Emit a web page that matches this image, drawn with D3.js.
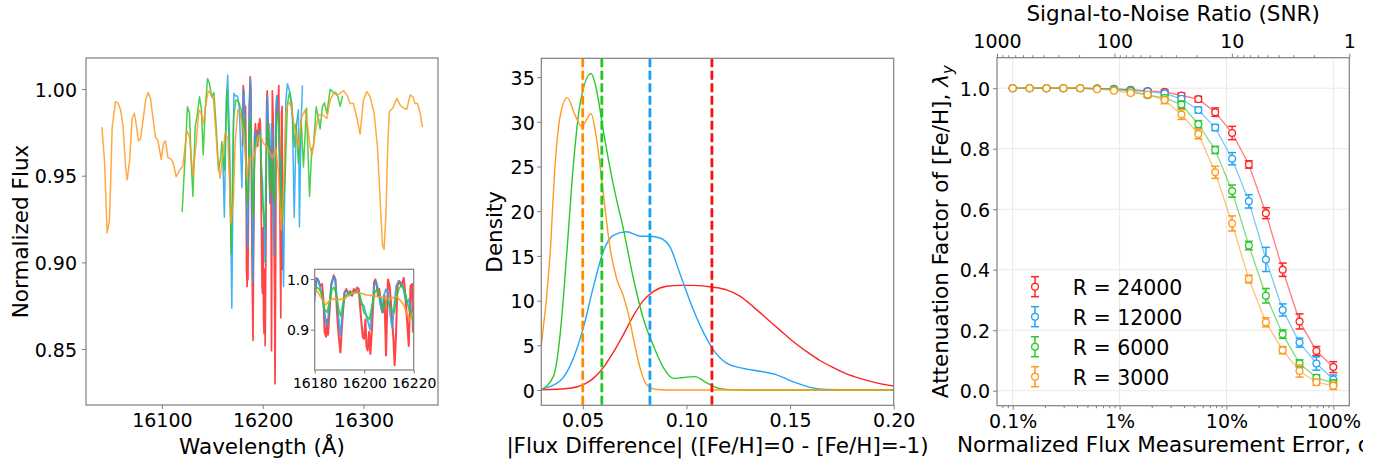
<!DOCTYPE html>
<html><head><meta charset="utf-8">
<script src="https://cdn.jsdelivr.net/npm/d3@7"></script>
<style>body{margin:0;background:#fff}svg{display:block}text{font-family:"DejaVu Sans",sans-serif;fill:#000}</style>
</head><body><svg id="c" width="1385" height="466"></svg>
<script>
// ---------------- Panel 1: spectra ----------------
const wlR3000 = [16040.5,16043,16045.7,16048,16050.7,16054,16056.4,16059,16061.4,16064,16065.6,16068,16070.4,16072.7,16074.7,16076.7,16078.7,16081.3,16083.9,16086.4,16088.7,16091,16093.7,16096,16099.3,16101.6,16103.6,16106,16108.2,16110.9,16114.2,16117.5,16120.8,16124.8,16127.4,16130.8,16134,16136.7,16139,16141.3,16143.3,16146,16148.6,16151.2,16153.2,16155.5,16157.8,16162.8,16165.5,16168.5,16171,16172.7,16175.4,16177.7,16181,16184.3,16186.9,16189.3,16191.9,16195.2,16197.5,16200.8,16204.2,16207.5,16209.7,16213.1,16215.7,16218.4,16220.7,16223,16225.6,16228.3,16231,16233.5,16235.5,16238.9,16242.2,16244.8,16247.1,16249.1,16252.1,16255.4,16259.7,16263.7,16267,16270.3,16273.6,16276.9,16280.2,16283.6,16286.8,16290.1,16294,16296.7,16300,16303.4,16306.6,16310.6,16313.9,16316.6,16318.9,16320.5,16322.5,16324.2,16325.8,16329.2,16333.1,16336.4,16339.7,16343,16346.3,16349,16351.3,16353.6,16356.3,16358.5];
const fluxR3000 = [0.978,0.959,0.917,0.924,0.978,0.9927,0.992,0.988,0.979,0.955,0.9475,0.959,0.983,0.986,0.979,0.970,0.971,0.982,0.9937,0.998,0.9946,0.984,0.972,0.9706,0.9594,0.9687,0.970,0.9604,0.960,0.958,0.9494,0.953,0.9556,0.976,0.972,0.950,0.9687,0.988,0.986,0.980,0.9898,0.9988,0.9975,0.9937,0.978,0.959,0.9485,0.9744,0.9716,0.9225,0.936,0.9687,0.988,0.986,0.976,0.949,0.961,0.959,0.961,0.9725,0.9735,0.9687,0.9667,0.963,0.960,0.9658,0.9514,0.9187,0.9437,0.986,0.9927,0.990,0.980,0.9725,0.9658,0.984,0.988,0.978,0.9667,0.962,0.9744,0.985,0.985,0.983,0.9937,0.9975,0.9965,0.9975,0.999,0.9965,0.9917,0.9917,0.982,0.974,0.9937,0.9985,0.9956,0.986,0.9667,0.936,0.910,0.9075,0.930,0.9687,0.987,0.989,0.9946,0.9908,0.989,0.9883,0.9965,0.9956,0.9917,0.9917,0.986,0.978];

const wlR6000 = [16120.1,16122.8,16125.4,16127.4,16129,16130.8,16133,16135.3,16137.3,16139.3,16141,16143,16145.3,16147.3,16149.3,16151.6,16153.9,16156.2,16158.5,16159.5,16162,16164.5,16166.8,16168.8,16171,16173.4,16176,16178.7,16180,16180.9,16181.9,16183,16184,16185,16185.9,16187,16187.8,16188.6,16189.7,16190.5,16191.3,16192.4,16193.5,16194.5,16195.6,16196.7,16197.8,16198.9,16199.9,16201,16202.1,16203.2,16204.2,16205.3,16206.4,16207.5,16208.3,16209.4,16210.2,16211,16212.1,16213.1,16214.2,16215.3,16216.4,16217.4,16218.5,16219.6,16222.3,16224.6,16226.6,16229,16231.3,16233.2,16235.5,16238.2,16240.5,16243.5,16246.5,16248.8,16250.4,16253.1,16255.4,16257,16259.3,16261.3,16263.7,16267,16270.3,16272.3,16274.7,16277,16279.2];
const fluxR6000 = [0.929,0.959,0.9898,0.986,0.959,0.938,0.978,0.986,0.9956,0.988,0.962,0.988,1.006,1.003,0.9956,0.998,0.978,0.953,0.961,0.9696,0.953,0.9994,0.9687,0.905,0.982,0.9937,0.9927,0.988,0.976,0.983,0.98,0.967,0.94,0.934,0.953,0.98,0.983,0.973,0.94,0.927,0.947,0.967,0.97,0.973,0.973,0.974,0.972,0.953,0.934,0.927,0.92,0.947,0.973,0.98,0.967,0.94,0.947,0.96,0.95,0.94,0.934,0.967,0.983,0.986,0.976,0.953,0.934,0.924,0.949,0.9917,0.998,0.9917,0.9667,0.980,0.957,0.982,0.955,0.989,0.938,0.9658,0.9667,0.9898,0.983,0.977,0.9898,0.992,0.986,0.9998,0.998,0.998,0.9956,0.990,0.996];

const wlR12000 = [16160.5,16162,16164,16165.3,16167,16169.4,16171.4,16173.2,16175,16176.8,16179.4,16180,16180.9,16181.6,16182.7,16183.6,16184.6,16185.1,16185.9,16186.7,16187.7,16188.4,16189.4,16190.4,16191.3,16192.1,16193.1,16194,16194.8,16195.8,16196.7,16197.8,16198.5,16199.1,16199.9,16200.5,16201.6,16202.4,16203.2,16204,16204.8,16205.6,16206.4,16207.2,16207.9,16208.8,16209.6,16210.4,16211.3,16212.1,16212.9,16213.9,16214.8,16215.6,16216.4,16217.2,16218,16218.8,16219.6,16220.7,16223,16224.6,16227.3,16229.6,16231.3,16233.2,16235.5,16236.5,16238.2,16239.5];
const fluxR12000 = [0.96,0.926,0.9937,1.008,0.975,0.8735,0.9975,0.996,0.996,0.990,0.943,0.96,1.0,0.996,0.973,0.947,0.914,0.908,0.947,0.986,1.006,0.993,0.934,0.888,0.934,0.973,0.976,0.967,0.97,0.973,0.976,0.976,0.96,0.95,0.947,0.934,0.914,0.9,0.94,0.986,0.996,0.98,0.953,0.934,0.967,0.98,0.973,0.934,0.904,0.947,0.986,0.996,0.993,0.986,0.967,0.953,0.96,0.94,0.92,0.886,0.9937,1.003,0.9975,0.982,0.926,0.978,0.988,0.9206,0.982,1.002];

const wlR24000 = [16180,16180.7,16181.3,16182.2,16183,16183.6,16184,16184.6,16185,16185.4,16185.9,16186.7,16187.7,16188.4,16189,16189.7,16190.4,16191,16192,16192.8,16193.7,16194.4,16195.1,16195.8,16196.4,16197.1,16197.8,16198.6,16199.4,16199.9,16200.5,16200.9,16201.4,16202,16202.5,16203.2,16204,16204.5,16205.1,16205.6,16206.1,16206.8,16207.5,16208.2,16208.8,16209.6,16210.3,16211,16211.8,16212.3,16212.9,16213.4,16214.2,16215,16216,16216.6,16217.3,16218,16218.7,16219.3,16219.7,16220];
const fluxR24000 = [0.967,1.002,0.999,0.986,0.99,0.953,0.896,0.886,0.92,0.89,0.93,0.99,1.007,0.999,0.934,0.888,0.855,0.907,0.973,0.98,0.97,0.976,0.967,0.98,0.973,0.983,0.98,0.93,0.886,0.882,0.92,0.868,0.859,0.896,0.852,0.907,0.993,0.999,0.986,0.967,0.98,0.947,0.934,0.967,0.849,0.999,0.986,0.94,0.882,0.83,0.896,0.986,0.996,0.986,1.002,0.967,0.92,0.868,0.986,0.99,0.896,0.90];

const specTicksX = [16100,16200,16300];
const specTicksY = [0.85,0.90,0.95,1.00];
const insetTicksX = [16180,16200,16220];
const insetTicksY = [0.9,1.0];

// ---------------- Panel 2: KDE ----------------
const kdeX3000 = [0.03,0.0342,0.0366,0.039,0.0425,0.0462,0.0495,0.054,0.0567,0.0599,0.0631,0.0663,0.0696,0.072,0.0744,0.0776,0.0808,0.0856,0.09,0.12,0.16,0.20];
const kdeY3000 = [5.0,15,25,30.5,32.7,30.8,29.5,30.9,28,22,16,12.5,10.5,8.5,5.8,2.5,0.6,0.05,0,0,0,0];
const kdeX6000 = [0.03,0.0358,0.039,0.0422,0.0454,0.0487,0.054,0.0567,0.0599,0.0647,0.0696,0.0744,0.0792,0.084,0.0889,0.0937,0.0985,0.1041,0.1098,0.1162,0.1226,0.14,0.17,0.20];
const kdeY6000 = [0.05,1.5,6,15,25,32,35.4,33.5,29,23,18,12.5,8,5,2.5,1.3,1.4,1.5,0.8,0.15,0.02,0,0,0];
const kdeX12000 = [0.03,0.039,0.0454,0.0503,0.0551,0.0599,0.0647,0.0712,0.0776,0.0824,0.0872,0.0921,0.0969,0.1033,0.1081,0.113,0.1194,0.1258,0.1355,0.1435,0.1516,0.1596,0.1676,0.18,0.20];
const kdeY12000 = [0.1,1.0,3.5,7,11.5,15.5,17.3,17.7,17.2,17.2,17.0,16,13,9,6.5,4.5,3.0,2.5,2.1,1.7,0.9,0.3,0.05,0,0];
const kdeX24000 = [0.03,0.0438,0.0503,0.0551,0.0599,0.0647,0.0696,0.0744,0.0792,0.084,0.0905,0.0969,0.1033,0.113,0.1194,0.1258,0.1323,0.1387,0.1451,0.1516,0.158,0.1644,0.1709,0.1773,0.1837,0.1917,0.20];
const kdeY24000 = [0.02,0.2,0.6,1.3,2.5,4.2,6.2,8.3,10,11,11.6,11.7,11.7,11.5,11.2,10.5,9.3,8.0,6.7,5.4,4.3,3.3,2.5,1.8,1.3,0.8,0.45];
const kdeMeans = [0.1123,0.0824,0.0592,0.0500]; // R=24000,12000,6000,3000
const kdeTicksX = [0.05,0.10,0.15,0.20];
const kdeTicksY = [0,5,10,15,20,25,30,35];

// ---------------- Panel 3: attenuation ----------------
const noiseLevels = [0.001,0.00144,0.00207,0.00298,0.00428,0.00616,0.00886,0.0127,0.0183,0.0264,0.0379,0.0546,0.0785,0.113,0.162,0.234,0.336,0.483,0.695,1.0];
const lamR24000 = [1.0,1.0,1.0,1.0,1.0,0.999,0.998,0.995,0.991,0.988,0.976,0.964,0.921,0.852,0.748,0.587,0.400,0.229,0.131,0.078];
const lamR12000 = [1.0,1.0,1.0,1.0,1.0,0.999,0.997,0.993,0.989,0.983,0.965,0.928,0.870,0.767,0.626,0.434,0.267,0.159,0.090,0.037];
const lamR6000  = [1.0,1.0,1.0,1.0,1.0,0.999,0.996,0.991,0.977,0.968,0.946,0.881,0.796,0.660,0.480,0.314,0.187,0.090,0.043,0.025];
const lamR3000  = [1.0,1.0,1.0,1.0,1.0,0.997,0.992,0.984,0.979,0.961,0.913,0.849,0.722,0.553,0.369,0.226,0.134,0.065,0.028,0.016];
const errR24000 = [0,0,0,0,0,0.002,0.003,0.004,0.005,0.006,0.008,0.009,0.014,0.022,0.012,0.018,0.022,0.025,0.015,0.018];
const errR12000 = [0,0,0,0,0,0.002,0.003,0.004,0.005,0.007,0.009,0.010,0.010,0.020,0.022,0.040,0.020,0.015,0.022,0.015];
const errR6000  = [0,0,0,0,0,0.002,0.003,0.004,0.006,0.008,0.012,0.012,0.012,0.020,0.014,0.024,0.014,0.012,0.010,0.010];
const errR3000  = [0,0,0,0,0,0.002,0.003,0.005,0.008,0.012,0.016,0.016,0.020,0.025,0.013,0.015,0.012,0.020,0.010,0.012];
const resLabels = ["R = 24000","R = 12000","R = 6000","R = 3000"];
const errTicks = [0.001,0.01,0.1,1];
const errTickLabels = ["0.1%","1%","10%","100%"];
const snrTicks = [1000,100,10,1];
const lamTicks = [0.0,0.2,0.4,0.6,0.8,1.0];

// ---------------- drawing ----------------
const COL = {r:'#ff2424', b:'#23a5f5', g:'#2cc82c', o:'#ff9a1f'};
const DASH = {r:'#f51010', b:'#15a0f0', g:'#1ec81e', o:'#ff8a00'};
const SPINE = '#7f7f7f';
const TICKF = 19, LABF = 21.5;
const svg = d3.select('#c');
const defs = svg.append('defs');

function clip(id,x0,y0,x1,y1){
  defs.append('clipPath').attr('id',id).append('rect').attr('x',x0).attr('y',y0).attr('width',x1-x0).attr('height',y1-y0);
  return 'url(#'+id+')';
}
function styleAxis(g, fs){
  g.select('.domain').remove();
  g.selectAll('.tick line').attr('stroke',SPINE).attr('stroke-width',1);
  g.selectAll('.tick text').attr('font-size',fs).attr('font-family','DejaVu Sans').attr('fill','#000');
}
function bottomAxis(scale, ticks, y, fs, base, fmt, size){
  const g = svg.append('g').attr('transform',`translate(0,${y})`)
    .call(d3.axisBottom(scale).tickValues(ticks).tickSize(size||4).tickFormat(fmt||(d=>d)));
  styleAxis(g, fs);
  g.selectAll('.tick text').attr('dy',null).attr('y',base);
  return g;
}
function leftAxis(scale, ticks, x, fs, off, fmt){
  const g = svg.append('g').attr('transform',`translate(${x},0)`)
    .call(d3.axisLeft(scale).tickValues(ticks).tickSize(4).tickFormat(fmt||(d=>d)));
  styleAxis(g, fs);
  g.selectAll('.tick text').attr('x',-off).attr('dy','0.38em');
  return g;
}
function box(x0,y0,x1,y1,fill){
  svg.append('rect').attr('x',x0).attr('y',y0).attr('width',x1-x0).attr('height',y1-y0)
    .attr('fill',fill||'none').attr('stroke',SPINE).attr('stroke-width',1.2);
}
function label(txt,x,y,rot,fs,anchor,parent){
  const t = (parent||svg).append('text').attr('font-size',fs||LABF).attr('text-anchor',anchor||'middle')
    .attr('transform',`translate(${x},${y})`+(rot?` rotate(${rot})`:'')).text(txt);
  return t;
}

// ===== Panel 1 =====
const P1 = {x0:86,x1:438,y0:58,y1:405};
const x1s = d3.scaleLinear().domain([16024.7,16374]).range([P1.x0,P1.x1]);
const y1s = d3.scaleLinear().domain([0.8177,1.0179]).range([P1.y1,P1.y0]);
const c1 = clip('c1',P1.x0,P1.y0,P1.x1,P1.y1);
const specs = [
  {wl:wlR24000, fl:fluxR24000, c:COL.r, w:1.7},
  {wl:wlR12000, fl:fluxR12000, c:COL.b, w:1.5},
  {wl:wlR6000,  fl:fluxR6000,  c:COL.g, w:1.5},
  {wl:wlR3000,  fl:fluxR3000,  c:COL.o, w:1.5}
];
function drawSpec(xs, ys, clipUrl, scaleW){
  const g = svg.append('g').attr('clip-path',clipUrl);
  specs.forEach(s=>{
    const line = d3.line().x((d,i)=>xs(s.wl[i])).y((d,i)=>ys(s.fl[i]));
    g.append('path').attr('d',line(s.wl)).attr('fill','none').attr('stroke',s.c)
      .attr('stroke-width',s.w*scaleW).attr('stroke-opacity',0.85).attr('stroke-linejoin','round');
  });
}
drawSpec(x1s,y1s,c1,1);
box(P1.x0,P1.y0,P1.x1,P1.y1);
bottomAxis(x1s,specTicksX,P1.y1,TICKF,22);
leftAxis(y1s,specTicksY,P1.x0,TICKF,9,d3.format('.2f'));
label('Wavelength (Å)',(P1.x0+P1.x1)/2,454);
label('Normalized Flux',28,(P1.y0+P1.y1)/2,-90);

// inset
const PI = {x0:314.7,x1:413.7,y0:269.3,y1:370};
svg.append('rect').attr('x',PI.x0).attr('y',PI.y0).attr('width',PI.x1-PI.x0).attr('height',PI.y1-PI.y0).attr('fill','#fff');
const xis = d3.scaleLinear().domain([16180,16220]).range([PI.x0,PI.x1]);
const yis = d3.scaleLinear().domain([0.8205,1.019]).range([PI.y1,PI.y0]);
const ci = clip('ci',PI.x0,PI.y0,PI.x1,PI.y1);
drawSpec(xis,yis,ci,1.2);
box(PI.x0,PI.y0,PI.x1,PI.y1);
bottomAxis(xis,insetTicksX,PI.y1,14,18,null,3.5);
leftAxis(yis,insetTicksY,PI.x0,14,5.5,d3.format('.1f'));

// ===== Panel 2 =====
const P2 = {x0:541.3,x1:893.7,y0:58.3,y1:405.3};
const x2s = d3.scaleLinear().domain([0.03,0.20]).range([P2.x0,P2.x1]);
const y2s = d3.scaleLinear().domain([-1.71,37.1]).range([P2.y1,P2.y0]);
const c2 = clip('c2',P2.x0,P2.y0,P2.x1,P2.y1);
const g2 = svg.append('g').attr('clip-path',c2);
const kdes = [
  {x:kdeX24000,y:kdeY24000,c:COL.r},
  {x:kdeX12000,y:kdeY12000,c:COL.b},
  {x:kdeX6000,y:kdeY6000,c:COL.g},
  {x:kdeX3000,y:kdeY3000,c:COL.o}
];
kdes.forEach(k=>{
  const line = d3.line().curve(d3.curveMonotoneX).x((d,i)=>x2s(k.x[i])).y((d,i)=>y2s(k.y[i]));
  g2.append('path').attr('d',line(k.x)).attr('fill','none').attr('stroke',k.c).attr('stroke-width',1.4);
});
const dashCols = [DASH.r,DASH.b,DASH.g,DASH.o];
kdeMeans.forEach((m,i)=>{
  g2.append('line').attr('x1',x2s(m)).attr('x2',x2s(m)).attr('y1',P2.y0).attr('y2',P2.y1)
    .attr('stroke',dashCols[i]).attr('stroke-width',2.8).attr('stroke-dasharray','9,3.5');
});
box(P2.x0,P2.y0,P2.x1,P2.y1);
bottomAxis(x2s,kdeTicksX,P2.y1,TICKF,22,d3.format('.2f'));
leftAxis(y2s,kdeTicksY,P2.x0,TICKF,6.5);
label('|Flux Difference| ([Fe/H]=0 - [Fe/H]=-1)',(P2.x0+P2.x1)/2,452.5);
label('Density',502,(P2.y0+P2.y1)/2,-90);

// ===== Panel 3 =====
const P3 = {x0:997,x1:1349.3,y0:57.7,y1:405.7};
const x3s = d3.scaleLog().domain([Math.pow(10,-3.147),Math.pow(10,0.1497)]).range([P3.x0,P3.x1]);
const y3s = d3.scaleLinear().domain([-0.0496,1.101]).range([P3.y1,P3.y0]);
const snrS = d3.scaleLog().domain([1000,1]).range([P3.x0,P3.x1]);
// grid
const gg = svg.append('g');
lamTicks.forEach(t=>gg.append('line').attr('x1',P3.x0).attr('x2',P3.x1).attr('y1',y3s(t)).attr('y2',y3s(t)).attr('stroke','#e9e9e9').attr('stroke-width',1));
errTicks.forEach(t=>gg.append('line').attr('y1',P3.y0).attr('y2',P3.y1).attr('x1',x3s(t)).attr('x2',x3s(t)).attr('stroke','#e9e9e9').attr('stroke-width',1));
const series = [
  {y:lamR24000,e:errR24000,c:COL.r},
  {y:lamR12000,e:errR12000,c:COL.b},
  {y:lamR6000,e:errR6000,c:COL.g},
  {y:lamR3000,e:errR3000,c:COL.o}
];
const g3 = svg.append('g');
function errGlyph(g,x,y,lo,hi,c){
  g.append('line').attr('x1',x).attr('x2',x).attr('y1',lo).attr('y2',hi).attr('stroke',c).attr('stroke-width',1.5);
  [lo,hi].forEach(yy=>g.append('line').attr('x1',x-4).attr('x2',x+4).attr('y1',yy).attr('y2',yy).attr('stroke',c).attr('stroke-width',1.5));
  g.append('circle').attr('cx',x).attr('cy',y).attr('r',3.4).attr('fill','#fff').attr('stroke',c).attr('stroke-width',1.3);
}
series.forEach(s=>{
  const line = d3.line().x((d,i)=>x3s(noiseLevels[i])).y((d,i)=>y3s(s.y[i]));
  g3.append('path').attr('d',line(s.y)).attr('fill','none').attr('stroke',s.c).attr('stroke-width',1.3).attr('stroke-opacity',0.6);
  s.y.forEach((v,i)=>{
    const x = x3s(noiseLevels[i]);
    if(s.e[i]>0.0025) errGlyph(g3,x,y3s(v),y3s(v-s.e[i]),y3s(v+s.e[i]),s.c);
    else g3.append('circle').attr('cx',x).attr('cy',y3s(v)).attr('r',3.4).attr('fill','#fff').attr('stroke',s.c).attr('stroke-width',1.3);
  });
});
box(P3.x0,P3.y0,P3.x1,P3.y1);
// minor ticks
const minorErr = [], minorSnr = [];
[-4,-3,-2,-1,0].forEach(k=>[2,3,4,5,6,7,8,9].forEach(m=>{const v=m*Math.pow(10,k); if(v>x3s.domain()[0]&&v<x3s.domain()[1]) minorErr.push(v);}));
[0,1,2].forEach(k=>[2,3,4,5,6,7,8,9].forEach(m=>minorSnr.push(m*Math.pow(10,k))));
const gmb = svg.append('g').attr('transform',`translate(0,${P3.y1})`).call(d3.axisBottom(x3s).tickValues(minorErr).tickSize(2.5).tickFormat(''));
styleAxis(gmb,10);
bottomAxis(x3s,errTicks,P3.y1,TICKF,22,(d,i)=>errTickLabels[i]);
const gmt = svg.append('g').attr('transform',`translate(0,${P3.y0})`).call(d3.axisTop(snrS).tickValues(minorSnr).tickSize(2.5).tickFormat(''));
styleAxis(gmt,10);
const gt = svg.append('g').attr('transform',`translate(0,${P3.y0})`).call(d3.axisTop(snrS).tickValues(snrTicks).tickSize(4).tickFormat(d=>d));
styleAxis(gt,TICKF);
gt.selectAll('.tick text').attr('y',-10).attr('dy',null);
leftAxis(y3s,lamTicks,P3.x0,TICKF,7,d3.format('.1f'));
// legend
const lg = svg.append('g');
series.forEach((s,i)=>{
  const yc = 286.7 + 30*i;
  errGlyph(lg,1035,yc,yc+10,yc-10,s.c);
  lg.append('text').attr('x',1072.7).attr('y',yc+8.3).attr('font-size',20.5).text(resLabels[i]);
});
label('Signal-to-Noise Ratio (SNR)',(P3.x0+P3.x1)/2,20.5);
const cx = clip('cxl',900,425,1363,466);
const xlg = svg.append('g').attr('clip-path',cx);
label('Normalized Flux Measurement Error, σ',957,451.7,0,LABF,'start',xlg);
const yl = label('',948,(P3.y0+P3.y1)/2,-90);
yl.append('tspan').text('Attenuation Factor of [Fe/H], ');
yl.append('tspan').attr('font-style','italic').text('λ');
yl.append('tspan').attr('font-style','italic').attr('font-size',15).attr('dy','5').text('y');
</script></body></html>
